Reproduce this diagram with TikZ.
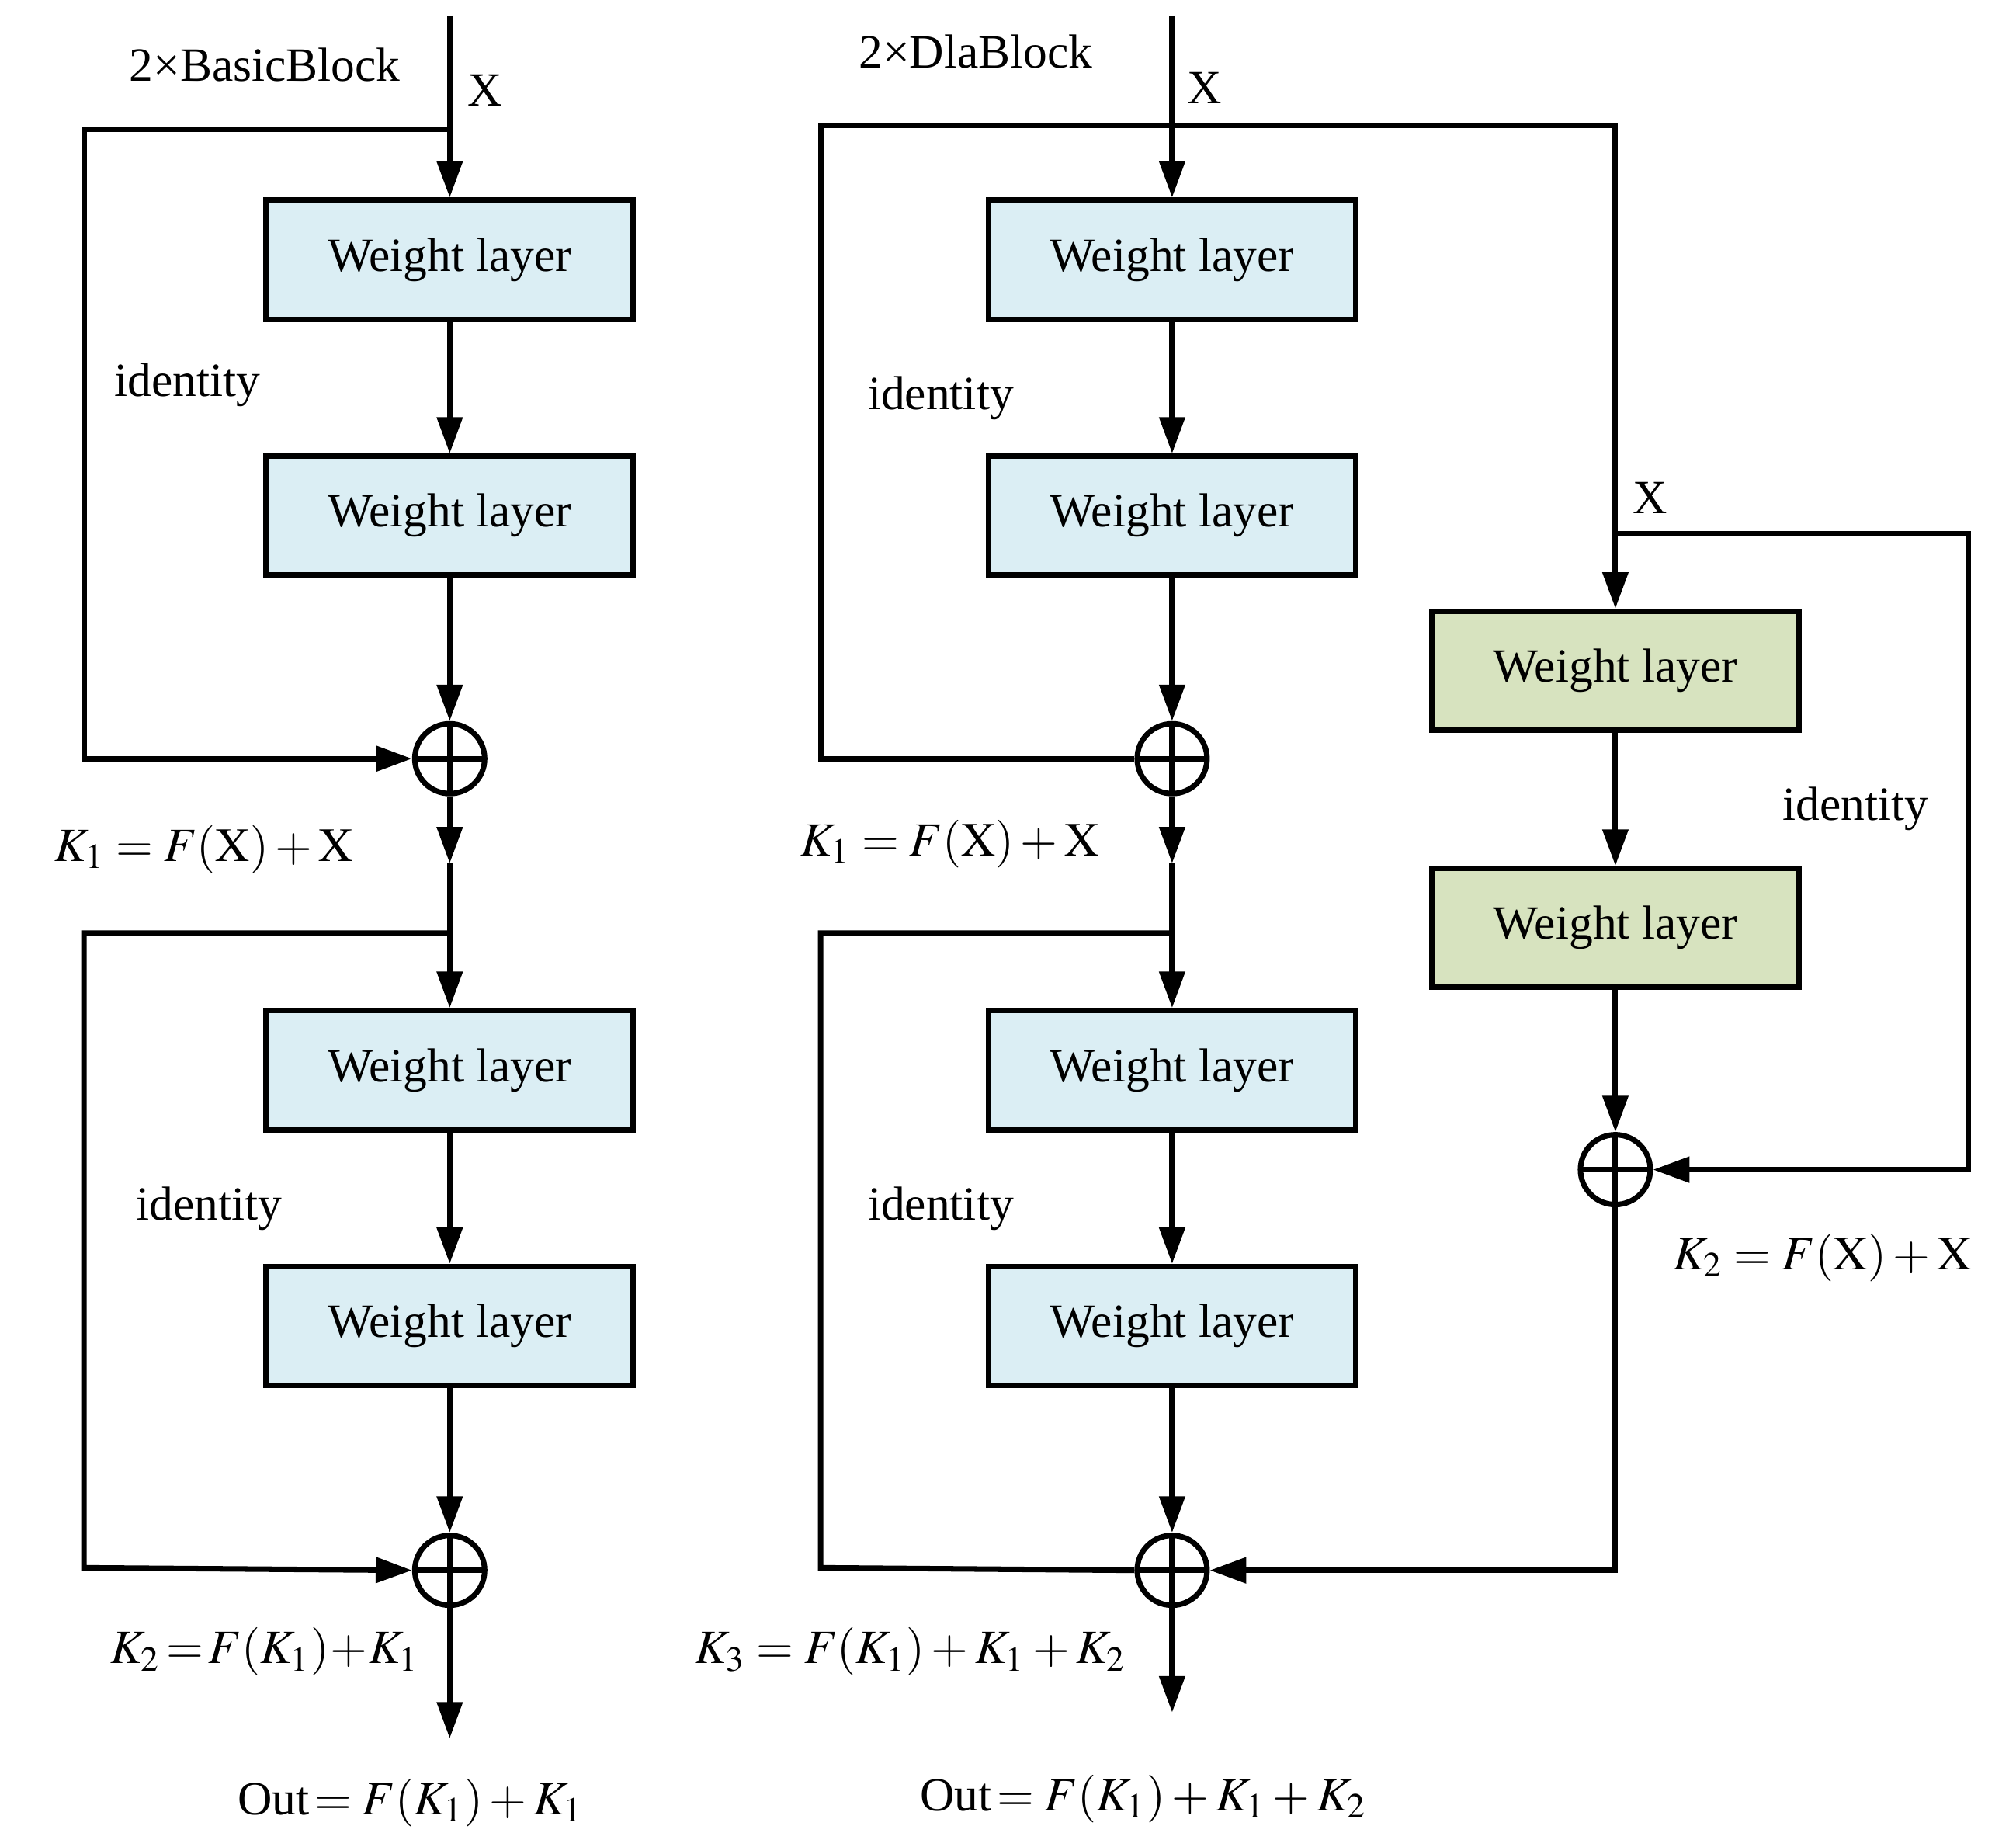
\documentclass[tikz,border=0pt]{standalone}
\usepackage{mathptmx}
\usepackage{fontspec}
\setmainfont{Liberation Serif}
\usetikzlibrary{arrows.meta}
\begin{document}
\begin{tikzpicture}[x=0.01cm,y=-0.01cm,line width=1.2pt,
  font=\fontsize{10.5}{12}\selectfont,
  arr/.style={-{Triangle[length=8pt,width=5.5pt]}},
  wl/.style={draw,fill=blue!12!cyan!8,minimum width=2.84cm,minimum height=0.92cm,inner sep=0pt},
  gl/.style={draw,fill=green!40!yellow!15!white!85!black!8,minimum width=2.84cm,minimum height=0.92cm,inner sep=0pt},
  sum/.style={draw,circle,minimum size=0.54cm,inner sep=0pt,
    path picture={\draw (path picture bounding box.north)--(path picture bounding box.south)
      (path picture bounding box.west)--(path picture bounding box.east);}}]
\useasboundingbox (0,0) rectangle (1560,1418);
\tikzset{wl/.append style={fill={rgb,255:red,219;green,238;blue,244}},
         gl/.append style={fill={rgb,255:red,215;green,227;blue,191}}}
% left column
\node[wl] (a1) at (348,201) {Weight layer};
\node[wl] (a2) at (348,399) {Weight layer};
\node[sum] (ac1) at (348,587) {};
\node[wl] (a3) at (348,828) {Weight layer};
\node[wl] (a4) at (348,1026) {Weight layer};
\node[sum] (ac2) at (348,1215) {};
\coordinate (ain) at (348,12);
\coordinate (aj1) at (348,100);
\coordinate (am) at (348,668);
\coordinate (aj2) at (348,722);
\coordinate (aout) at (348,1345);
\draw[arr] (ain) -- (a1);
\draw[arr] (a1) -- (a2);
\draw[arr] (a2) -- (ac1);
\draw[arr] (ac1) -- (am);
\draw[arr] (am) -- (a3);
\draw[arr] (a3) -- (a4);
\draw[arr] (a4) -- (ac2);
\draw[arr] (ac2) -- (aout);
\draw[arr] (aj1) -| (65,587) -- (ac1);
\draw[arr] (aj2) -| (65,1213) -- (ac2.west);
\node at (205,50) {2×BasicBlock};
\node at (375,70) {X};
\node at (145,298) {identity};
\node at (162,935) {identity};
\node at (158,657) {$K_1=F(\mathrm{X})+\mathrm{X}$};
\node at (205,1278) {$K_2\!=\!F(K_1)\!+\!K_1$};
\node at (318,1395) {Out$\,=F(K_1)+K_1$};
% middle column
\node[wl] (b1) at (907,201) {Weight layer};
\node[wl] (b2) at (907,399) {Weight layer};
\node[sum] (bc1) at (907,587) {};
\node[wl] (b3) at (907,828) {Weight layer};
\node[wl] (b4) at (907,1026) {Weight layer};
\node[sum] (bc2) at (907,1215) {};
\coordinate (bin) at (907,12);
\coordinate (bj1) at (907,97);
\coordinate (bm) at (907,668);
\coordinate (bj2) at (907,722);
\coordinate (bout) at (907,1325);
\draw[arr] (bin) -- (b1);
\draw[arr] (b1) -- (b2);
\draw[arr] (b2) -- (bc1);
\draw[arr] (bc1) -- (bm);
\draw[arr] (bm) -- (b3);
\draw[arr] (b3) -- (b4);
\draw[arr] (b4) -- (bc2);
\draw[arr] (bc2) -- (bout);
\draw (bj1) -| (635,587) -- (bc1);
\draw (bj2) -| (635,1213) -- (bc2.west);
% right branch
\node[gl] (g1) at (1250,519) {Weight layer};
\node[gl] (g2) at (1250,718) {Weight layer};
\node[sum] (gc) at (1250,905) {};
\coordinate (gj) at (1250,413);
\draw[arr] (bj1) -| (g1);
\draw[arr] (g1) -- (g2);
\draw[arr] (g2) -- (gc);
\draw[arr] (gj) -| (1523,905) -- (gc);
\draw[arr] (gc) |- (bc2);
\node at (755,40) {2×DlaBlock};
\node at (932,68) {X};
\node at (1277,385) {X};
\node at (728,308) {identity};
\node at (728,935) {identity};
\node at (1436,626) {identity};
\node at (735,653) {$K_1=F(\mathrm{X})+\mathrm{X}$};
\node at (1410,973) {$K_2=F(\mathrm{X})+\mathrm{X}$};
\node at (705,1278) {$K_3=F(K_1)+K_1+K_2$};
\node at (885,1392) {Out$\,=F(K_1)+K_1+K_2$};
\end{tikzpicture}
\end{document}
